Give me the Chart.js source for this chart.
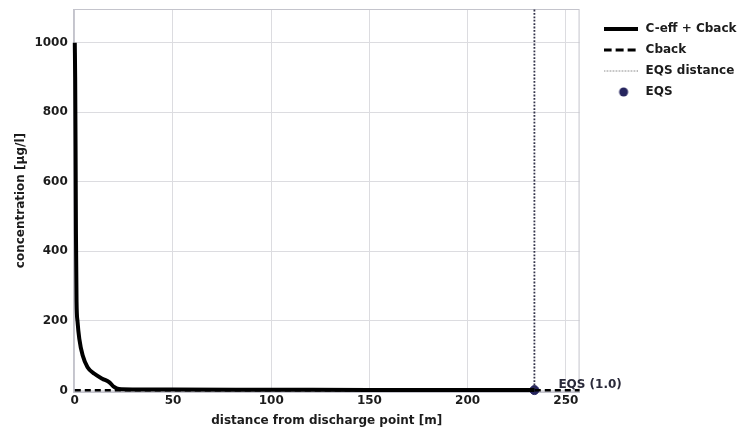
<!DOCTYPE html>
<html>
<head>
<meta charset="utf-8">
<script src="https://cdn.jsdelivr.net/npm/chart.js@4/dist/chart.umd.min.js"></script>
<style>
  body { margin: 0; background: #fff; }
  #wrap { width: 746px; height: 433px; }
</style>
</head>
<body>
<div id="wrap"><canvas id="chart" width="746" height="433"></canvas></div>
<script>
// concentration along the plume (C-eff + Cback)
const distance = [0, 0.2, 0.4, 0.6, 0.9, 1.4, 2.3, 4, 6.5, 10, 14, 17.5, 20, 22.5, 30, 50, 100, 150, 200, 234];
const concentration = [1000, 900, 700, 450, 255, 198, 149, 101, 67, 48, 34, 24, 10, 4, 3, 2.5, 2, 1.5, 1.2, 1.0];

// background concentration
const cbackX = [0, 257];
const cbackY = [0.5, 0.5];

// EQS distance and value
const eqsDistance = [234];
const eqsValue = [1.0];
const eqsLabel = 'EQS (1.0)';

const xTicks = [0, 50, 100, 150, 200, 250];
const yTicks = [0, 200, 400, 600, 800, 1000];
const xRange = [-0.5, 257];
const yRange = [-5, 1097];

const font = { family: 'DejaVu Sans', size: 12, weight: 'bold' };
const textColor = '#1c1c1c';
const gridColor = '#dcdce0';
const frameColor = '#c4c4cc';
const eqsColor = '#26255e';

function toPoints(xs, ys) {
    return xs.map((x, i) => ({ x: x, y: ys[i] }));
}

// little pictures used as legend markers
function lineSample(width, dash, color) {
    const c = document.createElement('canvas');
    c.width = 34; c.height = 8;
    const ctx = c.getContext('2d');
    ctx.strokeStyle = color;
    ctx.lineWidth = width;
    ctx.setLineDash(dash);
    ctx.beginPath();
    ctx.moveTo(0, 4);
    ctx.lineTo(34, 4);
    ctx.stroke();
    return c;
}
function dotSample(r, color) {
    const c = document.createElement('canvas');
    c.width = 34; c.height = 12;
    const ctx = c.getContext('2d');
    ctx.fillStyle = color;
    ctx.beginPath();
    ctx.arc(20, 6, r, 0, Math.PI * 2);
    ctx.fill();
    return c;
}
const legendSamples = [
    lineSample(4, [], '#000'),
    lineSample(3, [8, 4], '#000'),
    lineSample(1, [1.5, 1.5], '#777'),
    dotSample(4.5, eqsColor)
];

// plot frame (matplotlib style box)
const framePlugin = {
    id: 'frame',
    beforeDatasetsDraw(chart) {
        const a = chart.chartArea;
        const ctx = chart.ctx;
        ctx.save();
        ctx.strokeStyle = frameColor;
        ctx.lineWidth = 1;
        ctx.strokeRect(a.left + 0.5, a.top + 0.5, a.right - a.left - 1, a.bottom - a.top - 1);
        ctx.restore();
    }
};

// text next to the EQS point
const eqsLabelPlugin = {
    id: 'eqsLabel',
    afterDatasetsDraw(chart) {
        const ctx = chart.ctx;
        const px = chart.scales.x.getPixelForValue(eqsDistance[0]);
        const py = chart.scales.y.getPixelForValue(eqsValue[0]);
        ctx.save();
        ctx.font = 'bold 12px "DejaVu Sans"';
        ctx.fillStyle = '#2a2a3a';
        ctx.textAlign = 'left';
        ctx.textBaseline = 'middle';
        ctx.fillText(eqsLabel, px + 24, py - 5);
        ctx.restore();
    }
};

// move the legend block a little to sit like the original
const legendShift = {
    id: 'legendShift',
    afterLayout(chart) {
        const lg = chart.legend;
        lg.top += 5;
        lg.bottom += 5;
        lg.left += 13;
        lg.right += 13;
    }
};

new Chart(document.getElementById('chart'), {
    type: 'scatter',
    data: {
        datasets: [{
            label: 'C-eff + Cback',
            data: toPoints(distance, concentration),
            showLine: true,
            borderColor: '#000',
            backgroundColor: '#000',
            borderWidth: 4,
            pointRadius: 0,
            cubicInterpolationMode: 'monotone',
            clip: false
        }, {
            label: 'Cback',
            data: toPoints(cbackX, cbackY),
            showLine: true,
            borderColor: '#000',
            backgroundColor: '#000',
            borderWidth: 2.5,
            borderDash: [6, 4],
            pointRadius: 0,
            clip: false
        }, {
            label: 'EQS distance',
            data: toPoints([eqsDistance[0], eqsDistance[0]], yRange),
            showLine: true,
            borderColor: '#33334a',
            backgroundColor: '#33334a',
            borderWidth: 1.8,
            borderDash: [1.8, 1.6],
            pointRadius: 0
        }, {
            label: 'EQS',
            data: toPoints(eqsDistance, eqsValue),
            showLine: false,
            borderColor: eqsColor,
            backgroundColor: eqsColor,
            pointRadius: 4.5,
            pointStyle: 'circle',
            clip: false
        }]
    },
    options: {
        responsive: false,
        animation: false,
        layout: { padding: { top: 9, right: 12.5, bottom: 3, left: 13 } },
        plugins: {
            legend: {
                display: true,
                position: 'right',
                align: 'start',
                labels: {
                    usePointStyle: true,
                    pointStyleWidth: 38,
                    boxHeight: 7,
                    padding: 9,
                    color: textColor,
                    font: font,
                    generateLabels: chart => {
                        const items = Chart.defaults.plugins.legend.labels.generateLabels(chart);
                        items.forEach((it, i) => { it.pointStyle = legendSamples[i]; });
                        return items;
                    }
                }
            },
            tooltip: { enabled: false }
        },
        scales: {
            x: {
                type: 'linear',
                min: xRange[0],
                max: xRange[1],
                afterBuildTicks: axis => { axis.ticks = xTicks.map(v => ({ value: v })); },
                ticks: { color: textColor, font: font, padding: 1, maxRotation: 0, callback: v => String(v) },
                grid: { color: gridColor, drawTicks: false },
                border: { color: frameColor },
                title: {
                    display: true,
                    text: 'distance from discharge point [m]',
                    color: textColor,
                    font: font,
                    padding: { top: 5, bottom: 2 }
                }
            },
            y: {
                type: 'linear',
                min: yRange[0],
                max: yRange[1],
                afterBuildTicks: axis => { axis.ticks = yTicks.map(v => ({ value: v })); },
                afterFit: axis => { axis.paddingTop = 0; axis.paddingBottom = 0; },
                ticks: { color: textColor, font: font, padding: 6, callback: v => String(v) },
                grid: { color: gridColor, drawTicks: false },
                border: { color: frameColor },
                title: {
                    display: true,
                    text: 'concentration [µg/l]',
                    color: textColor,
                    font: font,
                    padding: { top: 1, bottom: 0 }
                }
            }
        }
    },
    plugins: [framePlugin, eqsLabelPlugin, legendShift]
});
</script>
</body>
</html>
